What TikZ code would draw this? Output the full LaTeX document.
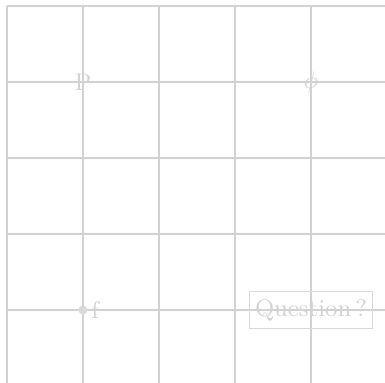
\documentclass[tikz,border=0pt]{standalone}
\usepackage{xcolor}
\usepackage{tikz}

\begin{document}
\begin{tikzpicture}

\def\cell{1}
\def\ncells{5}

\tikzset{
    gridline/.style={
        draw=gray!35,
        line width=0.4pt
    },
    faint/.style={
        text=gray!35,
        font=\small
    },
    dotnode/.style={
        circle,
        fill=gray!30,
        minimum size=0.12cm,
        inner sep=0pt
    },
    questionbox/.style={
        faint,
        draw=gray!30,
        inner xsep=2pt,
        inner ysep=3pt
    }
}

\useasboundingbox (-0.092,0.04) rectangle (4.974,5.079);

% Grid
\draw[gridline] (0,0) grid[step=\cell] (\ncells,\ncells);

% Top row
\node[faint] (P) at (1,4) {P};
\node[faint] (phi) at (4,4) {$\phi$};

% Bottom row
\node[dotnode] (fdot) at (1,1) {};
\node[faint,right=0pt,inner sep=1pt] (f) at (fdot.east) {f};

\node[questionbox] (question) at (4,1) {Question\,?};
\end{tikzpicture}
\end{document}
